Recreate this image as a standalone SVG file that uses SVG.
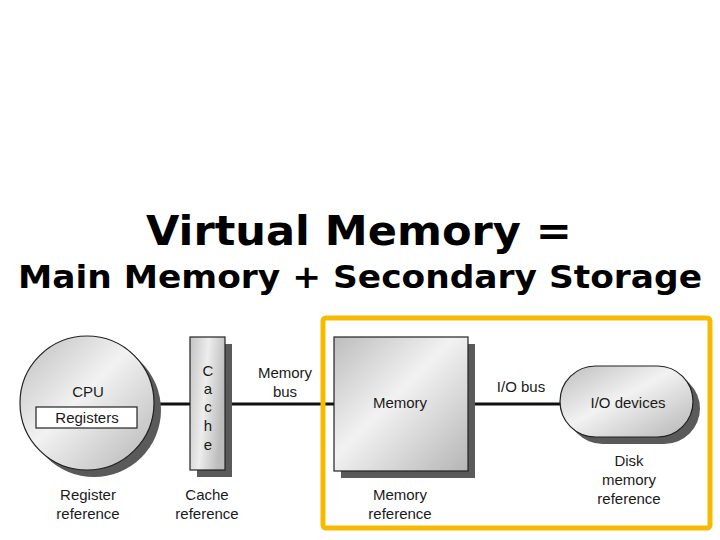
<svg xmlns="http://www.w3.org/2000/svg" width="720" height="540" viewBox="0 0 720 540">
<defs>
<linearGradient id="g" x1="0" y1="0" x2="1" y2="1">
<stop offset="0" stop-color="#bdbdbd"/>
<stop offset="0.45" stop-color="#f2f2f2"/>
<stop offset="1" stop-color="#b5b5b5"/>
</linearGradient>
<linearGradient id="gv" x1="0" y1="0" x2="1" y2="0.3">
<stop offset="0" stop-color="#c4c4c4"/>
<stop offset="0.5" stop-color="#ededed"/>
<stop offset="1" stop-color="#bcbcbc"/>
</linearGradient>
<style>
.t{font-family:"DejaVu Sans",Verdana,sans-serif;font-weight:bold;fill:#000;text-anchor:middle}
.l{font-family:"Liberation Sans",Arial,sans-serif;font-size:15px;fill:#1a1a1a;text-anchor:middle}
.sh{fill:#5a5a5a}
.sh2{fill:#5a5a5a}
.node{fill:url(#g);stroke:#222;stroke-width:1.2}
.bus{stroke:#111;stroke-width:3;fill:none}
</style>
</defs>
<rect width="720" height="540" fill="#fff"/>
<text class="t" x="359" y="245" font-size="40" textLength="426" lengthAdjust="spacingAndGlyphs">Virtual Memory =</text>
<text class="t" x="360" y="288" font-size="32" textLength="684" lengthAdjust="spacingAndGlyphs">Main Memory + Secondary Storage</text>

<g id="connectors">
<line class="bus" x1="154" y1="404" x2="190" y2="404"/>
<line class="bus" x1="226" y1="404" x2="334" y2="404"/>
<line class="bus" x1="468" y1="404" x2="561" y2="404"/>
</g>

<g id="cpu">
<circle class="sh" cx="94" cy="410" r="67"/>
<circle class="node" cx="87" cy="403" r="67"/>
<text class="l" x="88" y="397">CPU</text>
<rect x="36" y="407" width="101" height="21" fill="#fff" stroke="#222" stroke-width="1.2"/>
<text class="l" x="87" y="423">Registers</text>
</g>

<g id="cache">
<rect class="sh" x="197" y="344" width="35" height="133"/>
<rect x="190" y="337" width="35" height="133" fill="url(#gv)" stroke="#222" stroke-width="1.2"/>
<text class="l" x="208" y="376">C</text>
<text class="l" x="208" y="394">a</text>
<text class="l" x="208" y="412">c</text>
<text class="l" x="208" y="431">h</text>
<text class="l" x="208" y="450">e</text>
</g>

<g id="highlight">
<rect x="323" y="318" width="387" height="210" rx="3" fill="none" stroke="#f6bb00" stroke-width="5"/>
</g>

<g id="memory">
<rect class="sh" x="341" y="344" width="134" height="134"/>
<rect class="node" x="334" y="337" width="134" height="134"/>
<text class="l" x="400" y="408">Memory</text>
</g>

<g id="io">
<rect class="sh" x="567" y="373" width="133" height="71" rx="35.5"/>
<rect class="node" x="560" y="366" width="133" height="71" rx="35.5"/>
<text class="l" x="628" y="408">I/O devices</text>
</g>

<g id="labels">
<text class="l" x="285" y="378">Memory</text>
<text class="l" x="285" y="397">bus</text>
<text class="l" x="521" y="392">I/O bus</text>
<text class="l" x="88" y="500">Register</text>
<text class="l" x="88" y="519">reference</text>
<text class="l" x="207" y="500">Cache</text>
<text class="l" x="207" y="519">reference</text>
<text class="l" x="400" y="500">Memory</text>
<text class="l" x="400" y="519">reference</text>
<text class="l" x="629" y="466">Disk</text>
<text class="l" x="629" y="485">memory</text>
<text class="l" x="629" y="504">reference</text>
</g>
</svg>
